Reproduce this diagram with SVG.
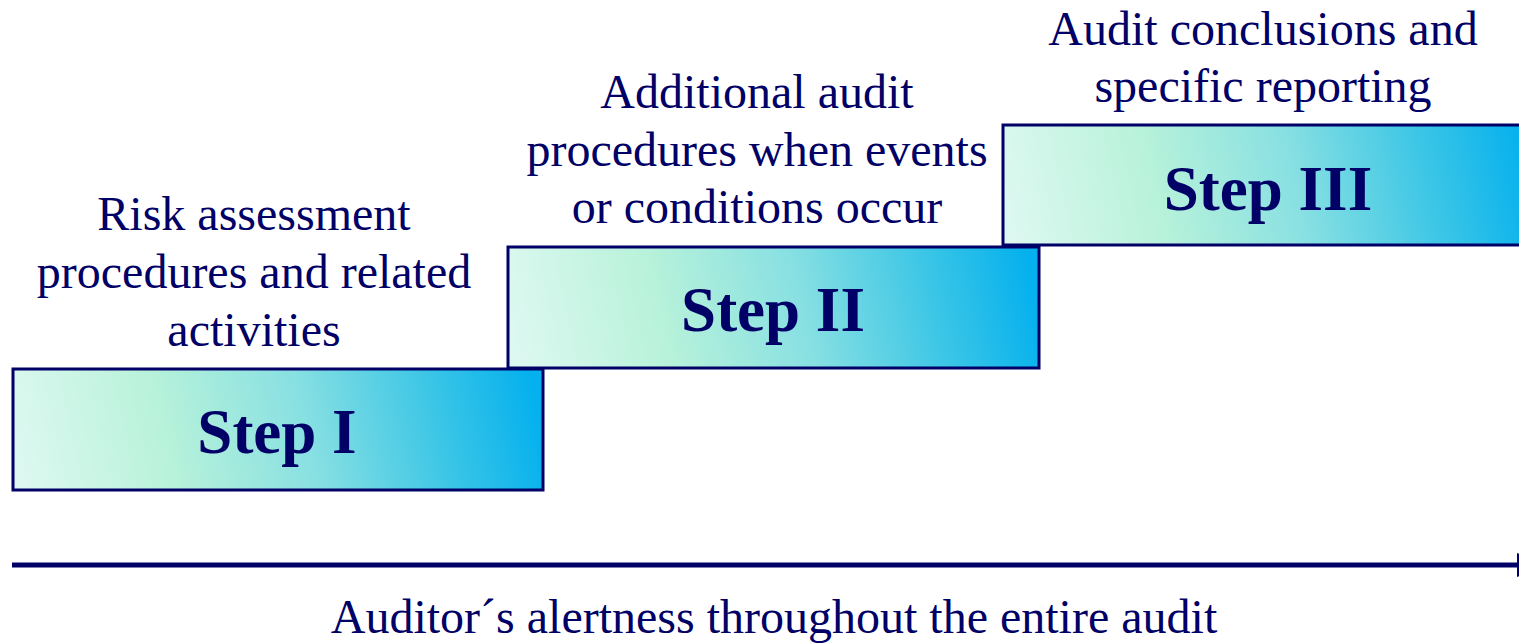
<svg xmlns="http://www.w3.org/2000/svg" width="1519" height="644" viewBox="0 0 1519 644">
  <defs>
    <linearGradient id="stepFill" x1="0" y1="0.5" x2="1" y2="0.45">
      <stop offset="0" stop-color="#dcf8f0"/>
      <stop offset="0.28" stop-color="#b8f2da"/>
      <stop offset="0.55" stop-color="#88e0e2"/>
      <stop offset="0.8" stop-color="#3cc6e6"/>
      <stop offset="1" stop-color="#04b0ee"/>
    </linearGradient>
  </defs>
  <style>
    .box { fill: url(#stepFill); stroke: #000066; stroke-width: 3; }
    .step { font-family: "Liberation Serif", "Times New Roman", serif; font-weight: bold; font-size: 63px; fill: #000066; text-anchor: middle; }
    .label { font-family: "Liberation Serif", "Times New Roman", serif; font-size: 48px; fill: #000066; text-anchor: middle; }
  </style>
  <rect width="1519" height="644" fill="#ffffff"/>

  <g id="step1">
    <rect class="box" x="13" y="369" width="530" height="121"/>
    <text class="step" x="277" y="453">Step I</text>
    <text class="label" x="254" y="230">Risk assessment</text>
    <text class="label" x="254" y="288">procedures and related</text>
    <text class="label" x="254" y="346">activities</text>
  </g>

  <g id="step2">
    <rect class="box" x="508" y="247" width="531" height="121"/>
    <text class="step" x="773" y="331">Step II</text>
    <text class="label" x="757" y="108">Additional audit</text>
    <text class="label" x="757" y="166">procedures when events</text>
    <text class="label" x="757" y="223">or conditions occur</text>
  </g>

  <g id="step3">
    <rect class="box" x="1003" y="125" width="531" height="120"/>
    <text class="step" x="1268" y="210">Step III</text>
    <text class="label" x="1263" y="45">Audit conclusions and</text>
    <text class="label" x="1263" y="102">specific reporting</text>
  </g>

  <g id="connectors">
    <line x1="12" y1="565" x2="1519" y2="565" stroke="#000066" stroke-width="5"/>
    <polygon points="1517,553 1545,565 1517,577" fill="#000066"/>
  </g>

  <g id="timeline-label">
    <text class="label" x="774" y="633">Auditor´s alertness throughout the entire audit</text>
  </g>
</svg>
